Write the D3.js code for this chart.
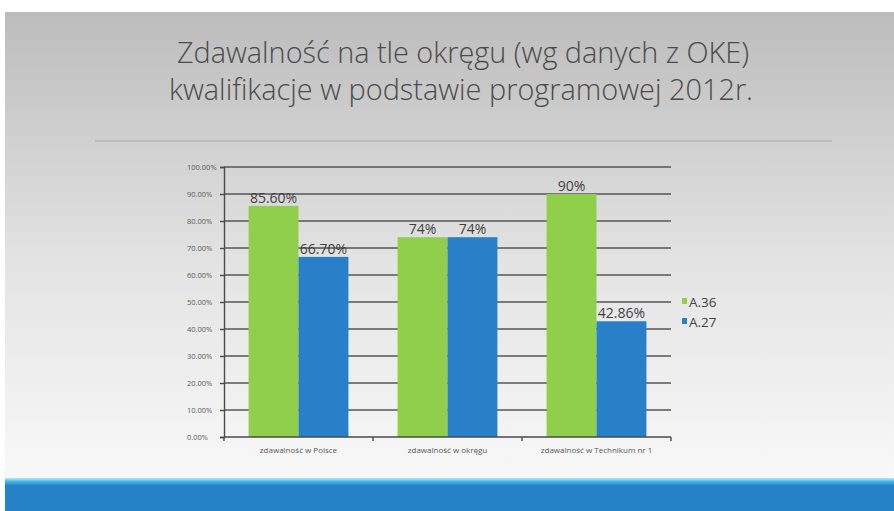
<!DOCTYPE html>
<html>
<head>
<meta charset="utf-8">
<script src="https://cdn.jsdelivr.net/npm/d3@7"></script>
<style>
  html, body { margin: 0; padding: 0; background: #fff; }
  svg { display: block; }
</style>
</head>
<body>
<div id="chart"></div>
<script>
// chart values
var categories = ["zdawalność w Polsce", "zdawalność w okręgu", "zdawalność w Technikum nr 1"];
var seriesNames = ["A.36", "A.27"];
var valuesA36 = [85.60, 74, 90];
var valuesA27 = [66.70, 74, 42.86];
var labelsA36 = ["85.60%", "74%", "90%"];
var labelsA27 = ["66.70%", "74%", "42.86%"];
var yTicks = [0, 10, 20, 30, 40, 50, 60, 70, 80, 90, 100];
var titleLines = ["Zdawalność na tle okręgu (wg danych z OKE)", "kwalifikacje w podstawie programowej 2012r."];

var W = 894, H = 511;
var colors = { "A.36": "#8fcf4b", "A.27": "#2880c8" };

var svg = d3.select("#chart").append("svg")
  .attr("width", W)
  .attr("height", H);

// slide background: grey at top fading to white
var defs = svg.append("defs");
var bg = defs.append("linearGradient").attr("id", "bg").attr("x1", 0).attr("y1", 0).attr("x2", 0).attr("y2", 1);
bg.append("stop").attr("offset", "0%").attr("stop-color", "#bcbcbc");
bg.append("stop").attr("offset", "55%").attr("stop-color", "#e4e4e4");
bg.append("stop").attr("offset", "100%").attr("stop-color", "#f8f8f8");

var stripe = defs.append("linearGradient").attr("id", "stripe").attr("x1", 0).attr("y1", 0).attr("x2", 0).attr("y2", 1);
stripe.append("stop").attr("offset", "0%").attr("stop-color", "#bfe9f8");
stripe.append("stop").attr("offset", "50%").attr("stop-color", "#45b6e8");
stripe.append("stop").attr("offset", "100%").attr("stop-color", "#2a8bd0");

svg.append("rect").attr("x", 5).attr("y", 12).attr("width", W - 5).attr("height", 468).attr("fill", "url(#bg)");
svg.append("rect").attr("x", 5).attr("y", 478).attr("width", W - 5).attr("height", 7).attr("fill", "url(#stripe)");
svg.append("rect").attr("x", 5).attr("y", 485).attr("width", W - 5).attr("height", H - 485).attr("fill", "#2682c6");

// title
var titleSpans = [[177, 749, 63], [169, 753, 100]];
svg.selectAll("text.title")
  .data(titleLines)
  .enter().append("text")
  .attr("class", "title")
  .attr("x", (d, i) => titleSpans[i][0])
  .attr("y", (d, i) => titleSpans[i][2])
  .attr("textLength", (d, i) => titleSpans[i][1] - titleSpans[i][0])
  .attr("lengthAdjust", "spacingAndGlyphs")
  .attr("font-family", "'Open Sans', 'Noto Sans', sans-serif")
  .attr("font-weight", 300)
  .attr("font-size", 30)
  .attr("fill", "#4a4a4a")
  .text(d => d);

svg.append("line")
  .attr("x1", 95).attr("x2", 832)
  .attr("y1", 141).attr("y2", 141)
  .attr("stroke", "#a6a6a6")
  .attr("stroke-width", 1.2);

// plot area (window.top is reserved, so prefixed names)
var plotLeft = 224, plotRight = 671, plotTop = 167, plotBottom = 437;

var x0 = d3.scaleBand()
  .domain(categories)
  .range([plotLeft, plotRight])
  .paddingInner(0.33)
  .paddingOuter(0.165);

var x1 = d3.scaleBand()
  .domain(seriesNames)
  .range([0, x0.bandwidth()]);

var y = d3.scaleLinear()
  .domain([0, 100])
  .range([plotBottom, plotTop]);

// gridlines
svg.append("g")
  .selectAll("line")
  .data(yTicks.filter(t => t > 0))
  .enter().append("line")
  .attr("x1", plotLeft).attr("x2", plotRight)
  .attr("y1", d => y(d)).attr("y2", d => y(d))
  .attr("stroke", "#555")
  .attr("stroke-width", 1.4);

// y axis (labels are left aligned in the original)
var yAxis = d3.axisLeft(y)
  .tickValues(yTicks)
  .tickSize(4)
  .tickFormat(d => d.toFixed(2) + "%");

var gy = svg.append("g")
  .attr("transform", "translate(" + plotLeft + ",0)")
  .call(yAxis);
gy.select(".domain").attr("stroke", "#4a4a4a").attr("stroke-width", 1.4);
gy.selectAll(".tick line").attr("stroke", "#4a4a4a").attr("stroke-width", 1.4);
gy.selectAll(".tick text")
  .attr("font-family", "'Open Sans', sans-serif")
  .attr("font-size", 7.5)
  .attr("fill", "#595959")
  .attr("text-anchor", "start")
  .attr("x", 187 - plotLeft);

// bars
var rows = categories.map((c, i) => ({
  cat: c,
  items: [
    { name: "A.36", value: valuesA36[i], label: labelsA36[i] },
    { name: "A.27", value: valuesA27[i], label: labelsA27[i] }
  ]
}));

var groups = svg.append("g")
  .selectAll("g")
  .data(rows)
  .enter().append("g")
  .attr("transform", d => "translate(" + x0(d.cat) + ",0)");

groups.selectAll("rect")
  .data(d => d.items)
  .enter().append("rect")
  .attr("x", d => x1(d.name))
  .attr("width", x1.bandwidth())
  .attr("y", d => y(d.value))
  .attr("height", d => plotBottom - y(d.value))
  .attr("fill", d => colors[d.name]);

groups.selectAll("text")
  .data(d => d.items)
  .enter().append("text")
  .attr("x", d => x1(d.name) + x1.bandwidth() / 2)
  .attr("y", d => y(d.value) - 3)
  .attr("text-anchor", "middle")
  .attr("font-family", "'Open Sans', sans-serif")
  .attr("font-size", 14)
  .attr("fill", "#404040")
  .text(d => d.label);

// x axis: ticks sit between categories
var xAxisG = svg.append("g");
xAxisG.append("line")
  .attr("x1", plotLeft).attr("x2", plotRight)
  .attr("y1", plotBottom).attr("y2", plotBottom)
  .attr("stroke", "#4a4a4a")
  .attr("stroke-width", 1.4);
var boundaries = categories.map(c => x0(c) - x0.step() * x0.paddingInner() / 2);
boundaries[0] = plotLeft;
boundaries.push(plotRight);
xAxisG.selectAll("line.xt")
  .data(boundaries)
  .enter().append("line")
  .attr("class", "xt")
  .attr("x1", d => d).attr("x2", d => d)
  .attr("y1", plotBottom).attr("y2", plotBottom + 4)
  .attr("stroke", "#4a4a4a")
  .attr("stroke-width", 1.4);
xAxisG.selectAll("text")
  .data(categories)
  .enter().append("text")
  .attr("x", d => x0(d) + x0.bandwidth() / 2)
  .attr("y", plotBottom + 16)
  .attr("text-anchor", "middle")
  .attr("font-family", "'Open Sans', sans-serif")
  .attr("font-size", 8)
  .attr("fill", "#595959")
  .text(d => d);

// legend
var legend = svg.append("g")
  .selectAll("g")
  .data(seriesNames)
  .enter().append("g")
  .attr("transform", (d, i) => "translate(682," + (307 + i * 20) + ")");
legend.append("rect")
  .attr("x", 0).attr("y", -9)
  .attr("width", 5).attr("height", 6)
  .attr("fill", d => colors[d]);
legend.append("text")
  .attr("x", 7).attr("y", 0)
  .attr("font-family", "'Open Sans', sans-serif")
  .attr("font-size", 13.5)
  .attr("fill", "#404040")
  .text(d => d);
</script>
</body>
</html>
